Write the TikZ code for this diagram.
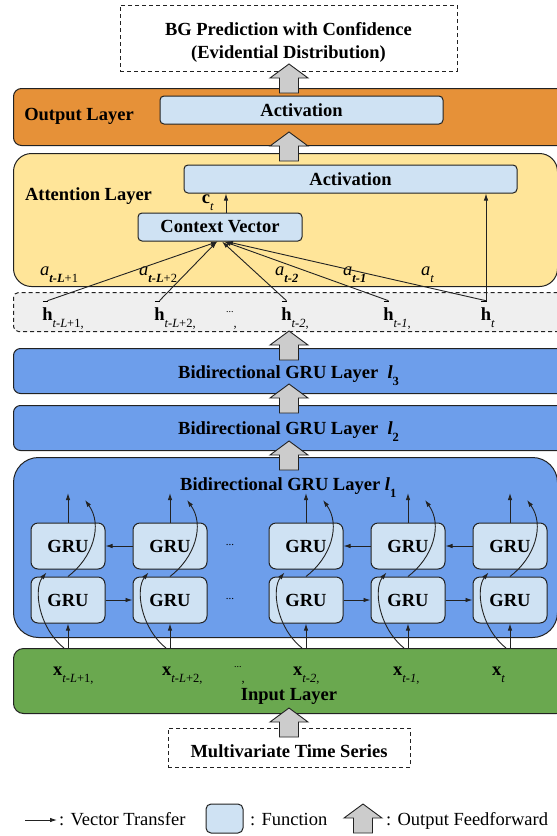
\documentclass[tikz,border=0pt]{standalone}
\usepackage{fontspec}
\setmainfont{Liberation Serif}
\usetikzlibrary{arrows.meta,positioning}

\definecolor{outorange}{HTML}{E69138}
\definecolor{attyellow}{HTML}{FFE599}
\definecolor{hidgray}{HTML}{EFEFEF}
\definecolor{grublue}{HTML}{6D9EEB}
\definecolor{funcblue}{HTML}{CFE2F3}
\definecolor{ingreen}{HTML}{6AA84F}
\definecolor{feedgray}{HTML}{CCCCCC}
\definecolor{edge}{HTML}{222222}

\newcommand\lowidx[1]{\raisebox{-7pt}{\fontsize{12.5}{12.5}\selectfont #1}}
\newcommand\hvec{\leavevmode\rlap{\hspace{0.5pt}\raisebox{18pt}{\rule{5.5pt}{1.1pt}}}\textbf{h}}
\newcommand\dotsmall{\raisebox{8pt}{\fontsize{10}{10}\selectfont ...}}

\tikzset{
  layer/.style={draw=edge,line width=1pt,anchor=north west,inner sep=0},
  func/.style={draw=edge,line width=1pt,fill=funcblue,rounded corners=4pt,inner sep=0},
  dashbox/.style={draw=edge,line width=0.9pt,dash pattern=on 4pt off 3pt,fill=white,inner sep=0},
  grucell/.style={func,rounded corners=7pt,minimum width=74,minimum height=46},
  vec/.style={-{Latex[length=7pt,width=4.5pt]},line width=0.9pt,edge},
  lbl/.style={inner sep=0,anchor=base},
  feedfwd/.pic={\draw[fill=feedgray,draw=edge,line width=0.9pt] (-9.5,0) -- (-9.5,-15) -- (-19,-15) -- (0,-29) -- (19,-15) -- (9.5,-15) -- (9.5,0) -- cycle;}
}

\begin{document}
\begin{tikzpicture}[x=1pt,y=-1pt,font=\fontsize{18.5}{23}\selectfont]
  \useasboundingbox (0,0) rectangle (557,836);

  \node[dashbox,minimum width=337,minimum height=66] (pred) at (288.5,38) {};
  \node[lbl] (predline1) at (288.5,35) {\bfseries BG Prediction with Confidence};
  \node[lbl] (predline2) at (288.5,58) {\bfseries (Evidential Distribution)};

  \node[layer,fill=outorange,rounded corners=8pt,minimum width=553,minimum height=57] (outlayer) at (13,88) {};
  \node[layer,fill=attyellow,rounded corners=18pt,minimum width=544,minimum height=133] (attlayer) at (13,153) {};
  \node[layer,fill=hidgray,dash pattern=on 4pt off 3pt,rounded corners=5pt,minimum width=549,minimum height=39] (hidden) at (13,292) {};
  \node[layer,fill=grublue,rounded corners=7pt,minimum width=553,minimum height=45] (gru3) at (13,348) {};
  \node[layer,fill=grublue,rounded corners=7pt,minimum width=553,minimum height=45] (gru2) at (13,405) {};
  \node[layer,fill=grublue,rounded corners=25pt,minimum width=544,minimum height=180] (gru1) at (13,457) {};
  \node[layer,fill=ingreen,rounded corners=10pt,minimum width=553,minimum height=65] (inlayer) at (13,648) {};
  \node[dashbox,minimum width=242,minimum height=39] (mts) at (289,747.5) {};

  \pic at (289,93) {feedfwd};
  \pic at (289,161) {feedfwd};
  \pic at (289,360) {feedfwd};
  \pic at (289,413) {feedfwd};
  \pic at (289,470) {feedfwd};
  \pic at (289,737) {feedfwd};

  \node[lbl] (outtxt) at (79,120) {\bfseries Output Layer};
  \node[func,minimum width=283,minimum height=28] (outact) at (301.5,110) {\bfseries Activation};

  \node[lbl] (atttxt) at (88.5,200) {\bfseries Attention Layer};
  \node[func,minimum width=333,minimum height=28] (attact) at (350.5,179) {\bfseries Activation};
  \node[func,minimum width=164,minimum height=28] (ctx) at (220,227) {\bfseries Context Vector};
  \node[lbl] (ctlbl) at (206,203) {\textbf{c}\rlap{\lowidx{\textit{t}}}};

  \node[lbl,anchor=base west] (a1) at (40,275) {\textit{a}\lowidx{\textbf{\textit{t-L}}+1}};
  \node[lbl,anchor=base west] (a2) at (139,275) {\textit{a}\lowidx{\textbf{\textit{t-L}}+2}};
  \node[lbl,anchor=base west] (a3) at (275,275) {\textit{a}\lowidx{\textbf{\textit{t-2}}}};
  \node[lbl,anchor=base west] (a4) at (343,275) {\textit{a}\lowidx{\textbf{\textit{t-1}}}};
  \node[lbl,anchor=base west] (a5) at (421,275) {\textit{a}\lowidx{\textit{t}}};

  \node[lbl] (h1) at (47.5,320) {\hvec\rlap{\lowidx{\textit{t-L}+1,}}};
  \node[lbl] (h2) at (159.5,320) {\hvec\rlap{\lowidx{\textit{t-L}+2,}}};
  \node[lbl,anchor=base west] (hdots) at (226,320) {\dotsmall\lowidx{,}};
  \node[lbl] (h3) at (286.5,320) {\hvec\rlap{\lowidx{\textit{t-2},}}};
  \node[lbl] (h4) at (388.5,320) {\hvec\rlap{\lowidx{\textit{t-1},}}};
  \node[lbl] (h5) at (486,320) {\hvec\rlap{\lowidx{\textit{t}}}};

  \foreach \i/\dx in {1/-2,2/-3,3/2,4/4,5/6}
    \draw[vec] (h\i.north) -- ([xshift=\dx pt]ctx.south);
  \draw[vec] (h5.north) -- (h5.north |- attact.south);
  \draw[vec] ([xshift=6pt]ctx.north) -- ([xshift=6pt]ctx.north |- attact.south);

  \node[lbl,anchor=base west] (gru3txt) at (178,378) {\bfseries Bidirectional GRU Layer\ \ \textit{l}\lowidx{3}};
  \node[lbl,anchor=base west] (gru2txt) at (178,434) {\bfseries Bidirectional GRU Layer\ \ \textit{l}\lowidx{2}};
  \node[lbl,anchor=base west] (gru1txt) at (180,490) {\bfseries Bidirectional GRU Layer \textit{l}\lowidx{1}};

  \foreach \i/\cx in {1/68,2/170,3/306,4/408,5/510}{
    \node[grucell] (bwd\i) at (\cx,546) {\bfseries GRU};
    \node[grucell] (fwd\i) at (\cx,600) {\bfseries GRU};
    \coordinate (in\i) at (\cx,648);
    \coordinate (up\i) at (\cx,493);
    \coordinate (upb\i) at (\cx+17,500);
  }
  \node (bdots) at (230,545) {\fontsize{11}{11}\selectfont ...};
  \node (fdots) at (230,599) {\fontsize{11}{11}\selectfont ...};

  \draw[vec] (fwd1.east) -- (fwd2.west);
  \draw[vec] (fwd3.east) -- (fwd4.west);
  \draw[vec] (fwd4.east) -- (fwd5.west);
  \draw[vec] (bwd2.west) -- (bwd1.east);
  \draw[vec] (bwd4.west) -- (bwd3.east);
  \draw[vec] (bwd5.west) -- (bwd4.east);

  \foreach \i in {1,...,5}{
    \draw[vec] (in\i) -- (fwd\i.south);
    \draw[vec] (bwd\i.north) -- (up\i);
    \draw[vec] ([shift={(-4,0)}]in\i) .. controls +(-26,-21) and +(-13,16) .. ([shift={(16,3)}]bwd\i.south west);
    \draw[vec] (fwd\i.north) .. controls +(25,-19) and +(18,25) .. (upb\i);
  }

  \node[lbl,anchor=base west] (x1) at (53,675) {\textbf{x}\lowidx{\textit{t-L}+1,}};
  \node[lbl,anchor=base west] (x2) at (162,675) {\textbf{x}\lowidx{\textit{t-L}+2,}};
  \node[lbl,anchor=base west] (xdots) at (234,675) {\dotsmall\lowidx{,}};
  \node[lbl,anchor=base west] (x3) at (293,675) {\textbf{x}\lowidx{\textit{t-2},}};
  \node[lbl,anchor=base west] (x4) at (393,675) {\textbf{x}\lowidx{\textit{t-1},}};
  \node[lbl,anchor=base west] (x5) at (492,675) {\textbf{x}\lowidx{\textit{t}}};
  \node[lbl] (intxt) at (289,700) {\bfseries Input Layer};
  \node[lbl] (mtstxt) at (289,757) {\bfseries Multivariate Time Series};

  \coordinate (legfrom) at (25,820);
  \coordinate (legto) at (57,820);
  \draw[vec] (legfrom) -- (legto);
  \node[lbl,anchor=base west] (legvec) at (59,825) {: Vector Transfer};
  \node[func,rounded corners=5pt,minimum width=37,minimum height=29] (legfunc) at (224.5,818.5) {};
  \node[lbl,anchor=base west] (legfunctxt) at (250,825) {: Function};
  \pic at (363,833) {feedfwd};
  \node[lbl,anchor=base west] (legfeed) at (386,825) {: Output Feedforward};
\end{tikzpicture}
\end{document}
